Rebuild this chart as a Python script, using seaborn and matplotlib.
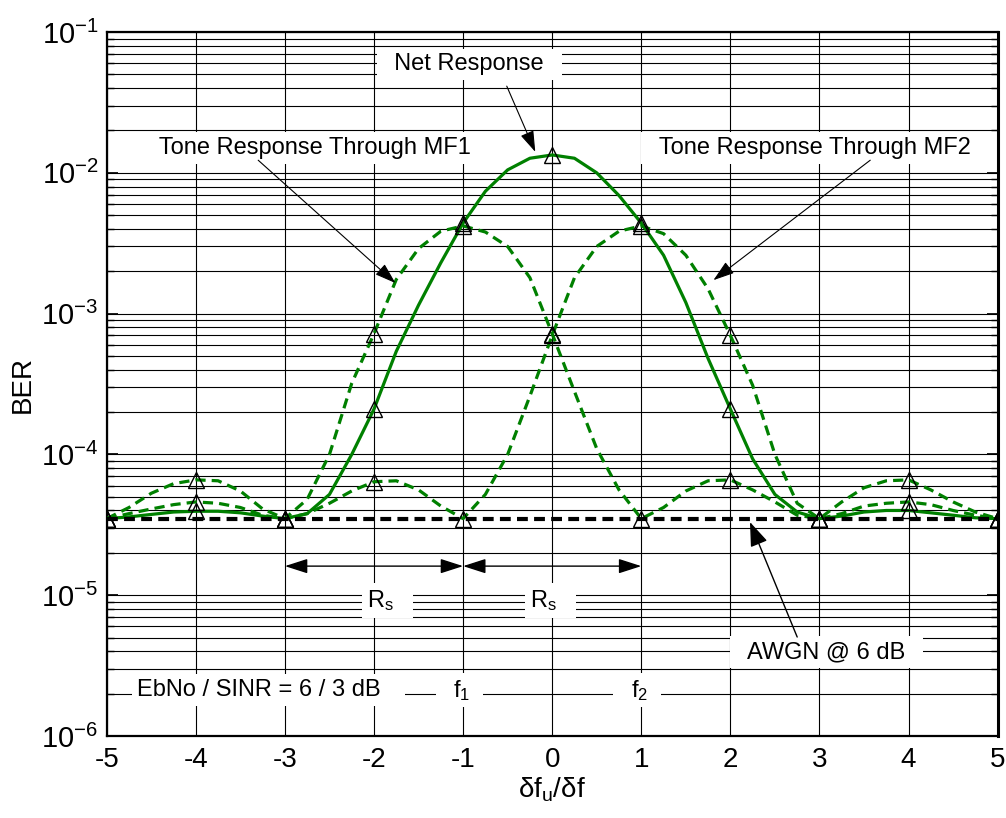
import numpy as np
import pandas as pd
import matplotlib
matplotlib.use("Agg")
import matplotlib.pyplot as plt
import matplotlib.ticker as mticker
import seaborn as sns

# dados (BER em escala log)
offset = np.linspace(-5, 5, 41)

ber_net = [3.5e-5, 3.6e-5, 3.75e-5, 3.9e-5, 3.95e-5, 3.95e-5, 3.85e-5, 3.65e-5,
           3.5e-5, 3.8e-5, 5.2e-5, 1.0e-4, 2.1e-4, 5.4e-4, 1.15e-3, 2.3e-3,
           4.4e-3, 7.4e-3, 1.05e-2, 1.27e-2, 1.34e-2, 1.27e-2, 1.0e-2, 6.9e-3,
           4.4e-3, 2.6e-3, 1.2e-3, 4.8e-4, 2.1e-4, 9.3e-5, 5.2e-5, 3.9e-5,
           3.5e-5, 3.65e-5, 3.9e-5, 4.0e-5, 4.0e-5, 3.85e-5, 3.7e-5, 3.55e-5, 3.5e-5]

ber_mf1 = [3.5e-5, 4.2e-5, 5.3e-5, 6.2e-5, 6.6e-5, 6.5e-5, 5.5e-5, 4.1e-5,
           3.5e-5, 4.8e-5, 1.0e-4, 3.2e-4, 7.2e-4, 1.75e-3, 2.9e-3, 3.85e-3,
           4.2e-3, 3.8e-3, 3.0e-3, 1.8e-3, 7.2e-4, 2.8e-4, 1.1e-4, 5.6e-5,
           3.5e-5, 4.2e-5, 5.5e-5, 6.5e-5, 6.6e-5, 5.6e-5, 4.6e-5, 3.7e-5,
           3.5e-5, 3.8e-5, 4.3e-5, 4.5e-5, 4.6e-5, 4.4e-5, 4.0e-5, 3.7e-5, 3.5e-5]

ber_mf2 = [3.5e-5, 3.8e-5, 4.1e-5, 4.4e-5, 4.6e-5, 4.5e-5, 4.2e-5, 3.7e-5,
           3.5e-5, 3.8e-5, 4.5e-5, 5.5e-5, 6.4e-5, 6.5e-5, 5.6e-5, 4.3e-5,
           3.5e-5, 5.2e-5, 1.0e-4, 2.6e-4, 7.0e-4, 1.8e-3, 3.0e-3, 3.85e-3,
           4.2e-3, 3.7e-3, 2.6e-3, 1.5e-3, 7.0e-4, 3.1e-4, 1.0e-4, 4.5e-5,
           3.5e-5, 4.6e-5, 5.8e-5, 6.5e-5, 6.6e-5, 5.6e-5, 4.6e-5, 3.9e-5, 3.5e-5]

ber_awgn = 3.5e-5

decadas = [1e-6, 1e-5, 1e-4, 1e-3, 1e-2, 1e-1]
rotulos_y = [r"$\mathregular{10^{-%d}}$" % n for n in [6, 5, 4, 3, 2, 1]]
ticks_x = [-5, -4, -3, -2, -1, 0, 1, 2, 3, 4, 5]

df = pd.DataFrame({"offset": offset, "net": ber_net, "mf1": ber_mf1, "mf2": ber_mf2})
marcas = df.iloc[::4]

sns.set_theme(style="white")
plt.rcParams["font.family"] = ["Liberation Sans", "DejaVu Sans"]
plt.rcParams["mathtext.fontset"] = "custom"
plt.rcParams["mathtext.rm"] = "Liberation Sans"
plt.rcParams["mathtext.it"] = "Liberation Sans:italic"
for k in ["text.color", "axes.labelcolor", "xtick.color", "ytick.color"]:
    plt.rcParams[k] = "black"

fig = plt.figure(figsize=(10.06, 8.18), dpi=100)
ax = fig.add_axes([0.1061, 0.1002, 0.8856, 0.8606])

verde = "#008000"
sns.lineplot(data=df, x="offset", y="mf1", ax=ax, color=verde, lw=2.3,
             linestyle=(0, (3.2, 1.9)), zorder=4)
sns.lineplot(data=df, x="offset", y="mf2", ax=ax, color=verde, lw=2.3,
             linestyle=(0, (3.2, 1.9)), zorder=4)
sns.lineplot(data=df, x="offset", y="net", ax=ax, color=verde, lw=2.3, zorder=4)
ax.axhline(ber_awgn, color="black", lw=3, linestyle=(0, (2.6, 1.5)), zorder=5)

for col in ["mf1", "mf2", "net"]:
    ax.plot(marcas["offset"], marcas[col], linestyle="none", marker="^", ms=12,
            mfc="none", mec="black", mew=1.0, zorder=6)

ax.set_yscale("log")
ax.set_ylim(1e-6, 1e-1)
ax.set_xlim(-5, 5)
ax.yaxis.set_major_locator(mticker.FixedLocator(decadas))
ax.yaxis.set_major_formatter(mticker.FixedFormatter(rotulos_y))
ax.yaxis.set_minor_locator(mticker.LogLocator(base=10, subs=np.arange(2, 10)))
ax.yaxis.set_minor_formatter(mticker.NullFormatter())
ax.set_xticks(ticks_x)
ax.set_xticklabels([str(t) for t in ticks_x])

ax.grid(which="both", color="black", lw=0.8)
ax.tick_params(axis="both", which="both", direction="in", labelsize=20,
               left=True, bottom=True, right=True, top=True, color="black")
ax.tick_params(axis="y", which="major", length=8, pad=6, labelsize=21)
ax.tick_params(axis="y", which="minor", length=5)
ax.tick_params(axis="x", which="major", length=0, pad=8)
for s in ax.spines.values():
    s.set_color("black")
    s.set_linewidth(1.6)
ax.spines["right"].set_linewidth(2.2)

ax.set_xlabel("δf$_\\mathregular{u}$/δf", fontsize=20, labelpad=2)
ax.set_ylabel("BER", fontsize=20, labelpad=4)

caixa = dict(boxstyle="square,pad=0.2", fc="white", ec="none")
seta = dict(arrowstyle="-|>,head_length=1.3,head_width=0.43", color="black",
            lw=0.8, shrinkA=0, shrinkB=0, mutation_scale=10)

ax.text(-0.93, 5.9e-2, "  Net Response  ", fontsize=17, ha="center", va="center",
        bbox=caixa, zorder=3)
ax.annotate("", xy=(-0.19, 1.41e-2), xytext=(-0.51, 4.13e-2), arrowprops=seta, zorder=7)

ax.text(-2.66, 1.5e-2, "  Tone Response Through MF1  ", fontsize=17, ha="center",
        va="center", bbox=caixa, zorder=3)
ax.annotate("", xy=(-1.76, 1.65e-3), xytext=(-3.30, 1.23e-2), arrowprops=seta, zorder=7)

ax.text(2.95, 1.5e-2, "  Tone Response Through MF2  ", fontsize=17, ha="center",
        va="center", bbox=caixa, zorder=3)
ax.annotate("", xy=(1.81, 1.73e-3), xytext=(3.57, 1.23e-2), arrowprops=seta, zorder=7)

ax.text(3.08, 3.95e-6, "  AWGN @ 6 dB  ", fontsize=17, ha="center", va="center",
        bbox=caixa, zorder=3)
seta_awgn = dict(seta, arrowstyle="-|>,head_length=1.5,head_width=0.55", lw=1.0)
ax.annotate("", xy=(2.22, 3.31e-5), xytext=(2.75, 5.05e-6), arrowprops=seta_awgn, zorder=7)

# rótulos da parte de baixo
ax.text(-3.18, 2.12e-6, "EbNo / SINR = 6 / 3 dB   ", fontsize=17, ha="center",
        va="center", bbox=caixa, zorder=3)
ax.text(-1.04, 2.12e-6, "  f$_\\mathregular{1}$  ", fontsize=17, ha="center",
        va="center", bbox=caixa, zorder=3)
ax.text(0.95, 2.12e-6, "  f$_\\mathregular{2}$  ", fontsize=17, ha="center",
        va="center", bbox=caixa, zorder=3)
ax.text(-1.85, 9.2e-6, "R$_\\mathregular{s}$   ", fontsize=17, ha="center",
        va="center", bbox=caixa, zorder=3)
ax.text(-0.02, 9.2e-6, "R$_\\mathregular{s}$   ", fontsize=17, ha="center",
        va="center", bbox=caixa, zorder=3)

dupla = dict(arrowstyle="<|-|>,head_length=1.4,head_width=0.45", color="black",
             lw=1.0, shrinkA=0, shrinkB=0, mutation_scale=10)
ax.annotate("", xy=(-1, 1.61e-5), xytext=(-3, 1.61e-5), arrowprops=dupla, zorder=7)
ax.annotate("", xy=(1, 1.61e-5), xytext=(-1, 1.61e-5), arrowprops=dupla, zorder=7)

fig.savefig("out.png", dpi=100)
